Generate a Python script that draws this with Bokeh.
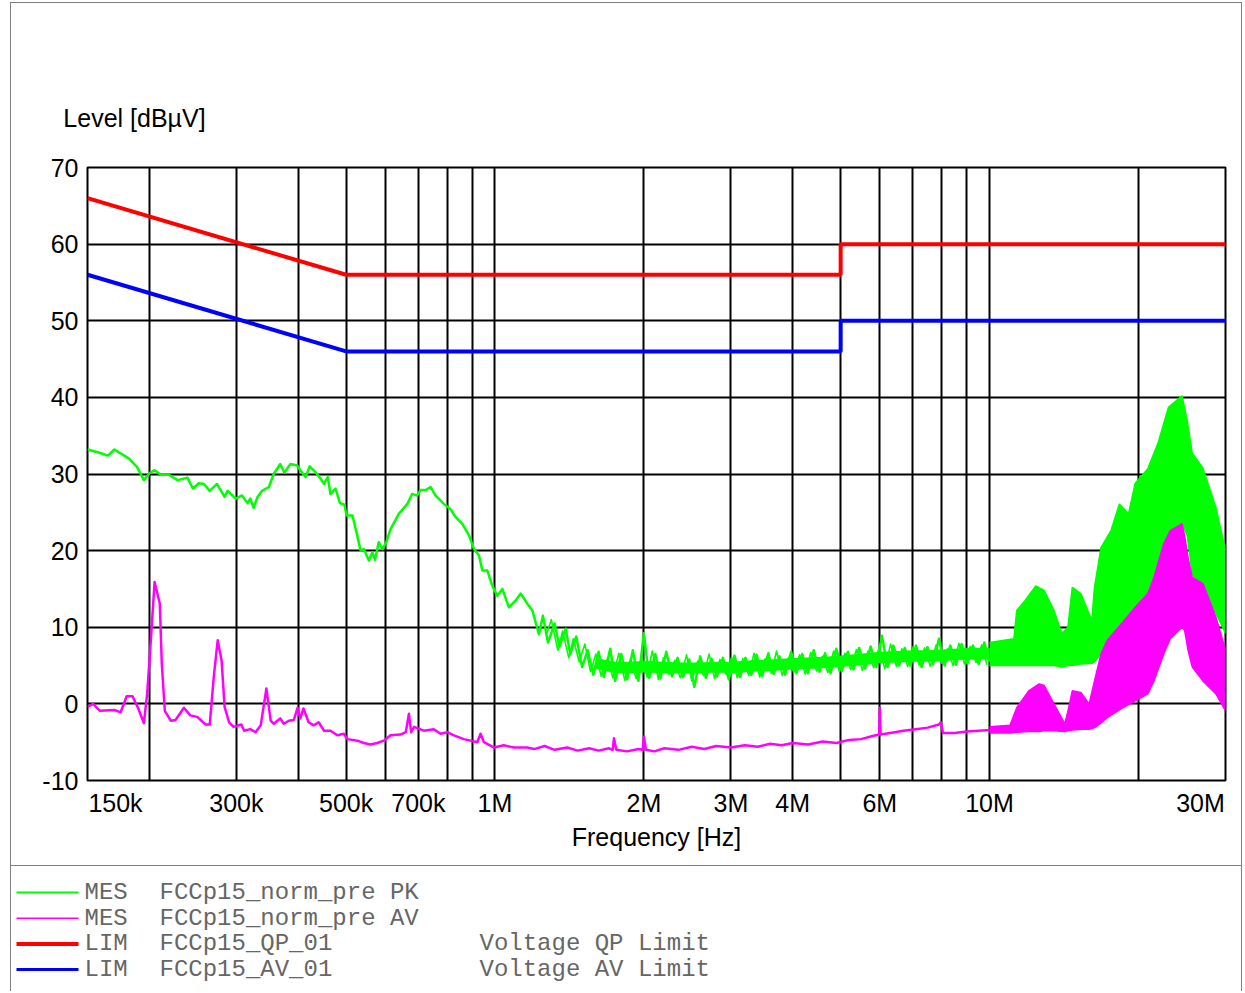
import math
from bokeh.plotting import figure
from bokeh.models import FixedTicker, Range1d, ColumnDataSource, LogAxis
from bokeh.embed import file_html
from bokeh.resources import INLINE
from bokeh.core.properties import value

# ---------------- data ----------------
# PK trace, low band (kHz, dBuV)
pk_low_khz = [150, 158, 165, 170, 182, 189, 195, 200, 205, 211, 219, 228, 239, 245, 252, 258, 265, 274, 284, 288,
              299, 308, 316, 320, 325, 331, 338, 349, 357, 368, 375, 386, 398, 404, 414, 422, 434, 444, 451, 459,
              465, 476, 486, 496, 501, 515, 523, 535, 543, 556, 565, 572, 582, 592, 603, 615, 639, 665, 680, 696,
              707, 724, 741, 758, 788, 813, 832, 859, 886, 907, 928, 943, 965, 988, 1011, 1035, 1067, 1101, 1127, 1162,
              1190, 1227]
pk_low_db = [33.2, 32.8, 32.4, 33.2, 32.0, 30.9, 29.2, 30.1, 30.5, 29.9, 29.9, 29.2, 29.5, 28.1, 28.8, 28.7, 27.8, 28.7, 27.0, 27.8,
             26.8, 27.2, 26.2, 26.8, 25.6, 27.0, 27.8, 28.3, 30.0, 31.3, 30.2, 31.3, 31.1, 30.5, 29.6, 31.0, 30.2, 29.4, 28.7, 29.6,
             27.4, 28.1, 26.2, 26.0, 24.6, 24.6, 22.8, 20.0, 20.2, 18.7, 19.8, 18.8, 21.1, 20.2, 21.1, 22.8, 24.8, 26.1, 27.4, 27.2,
             27.9, 27.9, 28.3, 27.2, 26.1, 25.4, 24.4, 23.5, 22.0, 20.2, 19.4, 17.4, 17.4, 15.4, 14.1, 15.0, 12.6, 13.5, 14.4, 13.1,
             12.2, 9.1]
# PK trace, middle band (MHz, dBuV) - noisy trace, two interleaved sweeps
pk_mid_mhz = [1.25, 1.28, 1.32, 1.35, 1.39, 1.42, 1.46, 1.50, 1.54, 1.58, 1.62, 1.66, 1.71, 1.75, 1.80, 1.85, 1.90, 1.95, 2.00, 2.05,
              2.11, 2.16, 2.22, 2.28, 2.34, 2.40, 2.47, 2.53, 2.60, 2.67, 2.74, 2.81, 2.89, 2.97, 3.05, 3.13, 3.21, 3.30, 3.38, 3.47,
              3.57, 3.66, 3.76, 3.86, 3.97, 4.07, 4.18, 4.29, 4.41, 4.53, 4.65, 4.77, 4.90, 5.03, 5.17, 5.31, 5.45, 5.60, 5.75, 5.90,
              6.06, 6.22, 6.39, 6.56, 6.74, 6.92, 7.10, 7.29, 7.49, 7.69, 7.90, 8.11, 8.33, 8.55, 8.78, 9.02, 9.26, 9.51, 9.76, 10.0]
pk_mid_db = [11.5, 8.0, 10.5, 7.5, 9.8, 6.5, 8.8, 4.8, 7.0, 3.8, 6.8, 3.5, 7.2, 3.0, 6.5, 3.2, 7.0, 3.0, 9.2, 3.4,
             6.5, 3.3, 6.8, 3.6, 6.0, 3.5, 5.8, 2.2, 6.2, 3.4, 5.9, 3.6, 6.0, 3.2, 6.3, 3.5, 6.0, 3.8, 6.4, 3.6,
             6.6, 3.9, 6.2, 3.8, 6.8, 4.0, 6.5, 4.0, 7.0, 4.2, 6.6, 4.0, 7.2, 4.3, 6.8, 4.5, 7.3, 4.6, 7.5, 4.8,
             8.9, 4.8, 7.6, 5.0, 7.3, 5.0, 7.6, 4.8, 7.4, 5.2, 8.5, 5.0, 7.6, 5.1, 7.8, 5.3, 7.6, 5.2, 8.0, 5.5]
pk_mid2_mhz = [1.27, 1.30, 1.34, 1.37, 1.41, 1.44, 1.48, 1.52, 1.56, 1.60, 1.64, 1.69, 1.73, 1.78, 1.83, 1.88, 1.93, 1.98, 2.03, 2.08,
               2.14, 2.19, 2.25, 2.31, 2.37, 2.44, 2.50, 2.57, 2.64, 2.71, 2.78, 2.85, 2.93, 3.01, 3.09, 3.17, 3.26, 3.34, 3.43, 3.52,
               3.62, 3.71, 3.81, 3.92, 4.02, 4.13, 4.24, 4.35, 4.47, 4.59, 4.71, 4.84, 4.97, 5.10, 5.24, 5.38, 5.53, 5.68, 5.83, 5.98,
               6.14, 6.31, 6.48, 6.65, 6.83, 7.01, 7.20, 7.39, 7.59, 7.80, 8.01, 8.22, 8.44, 8.67, 8.90, 9.14, 9.39, 9.64, 9.88]
pk_mid2_db = [9.0, 11.0, 7.0, 9.5, 6.0, 8.5, 5.5, 7.8, 4.2, 6.5, 3.6, 6.0, 3.4, 6.6, 3.1, 5.9, 3.3, 6.2, 3.5, 6.9,
              3.2, 6.0, 3.8, 5.7, 3.4, 6.4, 3.0, 5.6, 3.7, 6.5, 3.3, 5.8, 3.9, 6.1, 3.4, 5.9, 3.7, 6.6, 3.5, 5.9,
              4.0, 6.9, 3.7, 6.0, 4.1, 6.4, 3.9, 6.7, 4.3, 6.2, 4.1, 6.9, 4.2, 6.6, 4.5, 7.1, 4.4, 6.9, 4.7, 7.4,
              4.6, 7.8, 4.9, 7.2, 4.9, 7.5, 5.1, 7.3, 4.9, 7.7, 5.3, 7.2, 5.0, 7.9, 5.2, 7.5, 5.4, 7.7, 5.1]
# PK trace, dense core of the middle band (MHz, lower / upper dBuV)
pk_core_mhz = [1.6, 1.75, 1.85, 2.0, 2.2, 2.4, 2.6, 2.8, 3.0, 3.3, 3.6, 4.0, 4.4, 4.8, 5.2,
               5.6, 6.0, 6.5, 7.0, 7.5, 8.0, 8.5, 9.0, 9.5, 10.0]
pk_core_lo = [4.6, 4.0, 4.0, 4.1, 4.0, 4.0, 4.0, 4.1, 4.0, 4.2, 4.3, 4.5, 4.6, 4.7, 4.9,
              5.1, 5.3, 5.4, 5.5, 5.5, 5.6, 5.7, 5.8, 5.8, 5.8]
pk_core_hi = [6.0, 5.5, 5.5, 5.6, 5.5, 5.4, 5.4, 5.5, 5.5, 5.7, 5.8, 6.0, 6.1, 6.2, 6.4,
              6.6, 6.8, 6.9, 7.0, 7.0, 7.1, 7.2, 7.3, 7.3, 7.3]
# PK trace, high band envelope (MHz, lower / upper dBuV)
pk_high_mhz = [10.0, 11.2, 11.35, 11.8, 12.4, 12.9, 13.5, 14.0, 14.4, 14.7, 15.3, 16.1, 16.3, 16.8, 17.6, 18.3, 19.1, 19.7,
               20.9, 21.9, 23.0, 24.5, 25.1, 25.7, 27.0, 28.7, 30.0]
pk_high_hi = [8.0, 8.5, 12.2, 13.5, 15.4, 14.8, 12.2, 9.2, 10.0, 15.2, 14.4, 10.9, 15.2, 20.4, 22.6, 26.1, 24.8, 28.8,
              30.7, 34.0, 38.7, 40.2, 37.0, 32.7, 30.8, 25.6, 20.0]
pk_high_lo = [5.0, 5.0, 5.0, 5.0, 5.0, 5.0, 5.0, 4.8, 5.0, 5.0, 5.2, 5.3, 5.5, 6.5, 8.0, 9.3, 10.5, 11.5,
              13.9, 17.0, 21.0, 23.5, 22.0, 17.0, 14.4, 11.8, 9.2]

# AV trace, low band (kHz, dBuV)
av_low_khz = [150, 154, 159, 170, 175, 180, 185, 190, 195, 198, 201, 205, 210, 212, 215, 221, 226, 235, 242, 250,
              255, 260, 265, 270, 275, 280, 284, 290, 296, 307, 311, 320, 328, 336, 345, 352, 357, 368, 374, 383,
              392, 399, 404, 410, 420, 430, 440, 451, 465, 480, 495, 503, 527, 543, 560, 578, 596, 615, 644, 660,
              670, 677, 686, 718, 752, 776, 801, 826, 865, 893, 921, 935, 950, 995, 1042, 1092, 1162]
av_low_db = [-0.4, 0.0, -0.9, -0.8, -1.1, 1.0, 1.0, -0.6, -2.5, 1.3, 7.4, 15.9, 13.1, 5.2, -0.9, -2.2, -2.1, -0.5, -1.5, -1.7,
             -2.2, -2.7, -2.7, 3.5, 8.3, 5.7, -0.4, -2.4, -3.0, -2.7, -3.5, -3.3, -3.7, -2.8, 2.0, -2.2, -2.6, -1.9, -2.6, -2.2,
             -2.1, -0.5, -1.9, -0.6, -2.4, -2.8, -2.4, -3.5, -3.5, -4.1, -3.9, -4.6, -4.8, -5.1, -5.3, -5.1, -4.8, -4.1, -4.0, -3.7,
             -1.3, -3.7, -3.0, -3.5, -3.3, -3.9, -3.7, -4.1, -4.6, -4.8, -5.0, -3.9, -5.0, -5.7, -5.4, -5.7, -5.7]
# AV trace, middle band (MHz, dBuV)
av_mid_mhz = [1.2, 1.26, 1.32, 1.4, 1.47, 1.55, 1.62, 1.7, 1.73, 1.74, 1.76, 1.85, 1.95, 1.99, 2.0, 2.02, 2.1, 2.2, 2.35, 2.5,
              2.65, 2.8, 3.0, 3.2, 3.4, 3.6, 3.8, 4.0, 4.3, 4.6, 4.9, 5.2, 5.5, 5.8, 5.98, 6.0, 6.02, 6.3, 6.7, 7.1,
              7.5, 7.9, 7.97, 8.05, 8.5, 9.0, 9.5, 10.0]
av_mid_db = [-5.9, -5.5, -6.0, -5.7, -6.1, -5.8, -6.1, -5.8, -6.0, -4.5, -6.0, -6.2, -5.9, -6.0, -4.3, -6.0, -6.2, -5.8, -6.0, -5.6,
             -5.9, -5.5, -5.7, -5.4, -5.6, -5.2, -5.4, -5.1, -5.3, -4.9, -5.1, -4.7, -4.6, -4.2, -4.0, -0.5, -4.0, -3.8, -3.5, -3.3,
             -3.1, -2.7, -2.4, -3.8, -3.8, -3.6, -3.5, -3.4]
# AV trace, high band envelope (MHz, lower / upper dBuV)
av_high_mhz = [10.0, 11.0, 11.35, 12.0, 12.6, 12.9, 13.5, 14.2, 14.4, 14.7, 15.3, 15.9, 16.3, 16.8, 17.3, 18.5, 19.7, 20.9,
               21.5, 22.5, 23.2, 24.5, 24.8, 25.2, 25.7, 27.0, 28.7, 30.0]
av_high_hi = [-3.0, -2.8, -0.5, 1.7, 2.6, 2.4, 0.0, -2.6, -1.0, 1.7, 1.5, 0.0, 3.0, 6.5, 8.3, 10.5, 12.6, 14.4,
              16.5, 20.9, 22.6, 23.5, 22.0, 19.1, 16.5, 15.7, 11.3, 7.0]
av_high_lo = [-3.8, -3.8, -3.7, -3.6, -3.6, -3.5, -3.5, -3.6, -3.5, -3.4, -3.3, -3.3, -3.1, -2.5, -1.8, -0.6, 0.4, 1.3,
              3.0, 6.5, 8.5, 10.0, 9.6, 7.0, 4.8, 3.0, 1.3, -0.9]

# Limits (MHz, dBuV)
qp_lim_mhz = [0.15, 0.5, 5.0, 5.0, 30.0]
qp_lim_db = [66, 56, 56, 60, 60]
av_lim_mhz = [0.15, 0.5, 5.0, 5.0, 30.0]
av_lim_db = [56, 46, 46, 50, 50]

# Axes
x_min_hz, x_max_hz = 150e3, 30e6
y_min, y_max = -10, 70
x_tick_hz = [150e3, 300e3, 500e3, 700e3, 1e6, 2e6, 3e6, 4e6, 6e6, 10e6, 30e6]
x_tick_labels = ["150k", "300k", "500k", "700k", "1M", "2M", "3M", "4M", "6M", "10M", "30M"]
x_grid_hz = [200e3, 300e3, 400e3, 500e3, 600e3, 700e3, 800e3, 900e3, 1e6, 2e6, 3e6, 4e6, 5e6, 6e6, 7e6,
             8e6, 9e6, 10e6, 20e6]
y_ticks = [-10, 0, 10, 20, 30, 40, 50, 60, 70]
y_tick_labels = ["-10", "0", "10", "20", "30", "40", "50", "60", "70"]
y_grid = [0, 10, 20, 30, 40, 50, 60]
x_title = "Frequency [Hz]"
y_title = "Level [dBµV]"

# Legend
legend_kind = ["MES", "MES", "LIM", "LIM"]
legend_name = ["FCCp15_norm_pre PK", "FCCp15_norm_pre AV", "FCCp15_QP_01", "FCCp15_AV_01"]
legend_desc = ["", "", "Voltage QP Limit", "Voltage AV Limit"]

# ---------------- styles / layout ----------------
GREEN, MAGENTA, RED, BLUE = "#00ff00", "#ff00ff", "#ff0000", "#0000ff"
BORDER = "1px solid #808080"
W = 1232                  # canvas width (page x 11 .. 1243)
MAIN_H = 863              # canvas height (page y 3 .. 866)
LEG_H = 126               # legend canvas height (page y 867 .. 993)
ML, MR, MT, MB = 76, 18, 164, 86
FRAME_W = W - ML - MR
SANS = "Liberation Sans"
MONO = "Liberation Mono"

p = figure(width=W, height=MAIN_H, x_axis_type="log",
           x_range=Range1d(x_min_hz, x_max_hz), y_range=Range1d(y_min, y_max),
           output_backend="svg", toolbar_location=None,
           min_border_left=ML, min_border_right=MR, min_border_top=MT, min_border_bottom=MB,
           margin=(2, 0, 0, 10),
           styles={"border-left": BORDER, "border-right": BORDER, "border-top": BORDER})
p.background_fill_color = "white"
p.border_fill_color = "white"
p.outline_line_color = "black"
p.outline_line_width = 2
bottom_axis = p.below[0]
left_axis = p.left[0]

px_per_dec = FRAME_W / math.log10(x_max_hz / x_min_hz)


def shift(f, px):
    return f * 10 ** (px / px_per_dec)


# x axis ticks: first / last label aligned with the frame edges
label_pos = list(x_tick_hz)
label_pos[0] = shift(x_tick_hz[0], 28)
label_pos[-1] = shift(x_tick_hz[-1], -25)
bottom_axis.ticker = FixedTicker(ticks=label_pos)
bottom_axis.major_label_overrides = {pos: lbl for pos, lbl in zip(label_pos, x_tick_labels)}
left_axis.ticker = FixedTicker(ticks=y_ticks)
left_axis.major_label_overrides = {t: lbl for t, lbl in zip(y_ticks, y_tick_labels)}

# y-axis title drawn as the label of a top axis
title_pos = shift(x_min_hz, 47)
top_axis = LogAxis(ticker=FixedTicker(ticks=[title_pos]), major_label_overrides={title_pos: y_title})
p.add_layout(top_axis, "above")

for ax in (bottom_axis, left_axis, top_axis):
    ax.axis_line_color = None
    ax.major_tick_line_color = None
    ax.minor_tick_line_color = None
    ax.major_tick_in = 0
    ax.major_tick_out = 0
    ax.minor_tick_in = 0
    ax.minor_tick_out = 0
    ax.major_label_text_font = SANS
    ax.major_label_text_font_size = "25px"
    ax.major_label_text_color = "black"
bottom_axis.major_label_standoff = 8
left_axis.major_label_standoff = 9
top_axis.major_label_standoff = 36
bottom_axis.axis_label = x_title
bottom_axis.axis_label_text_font = SANS
bottom_axis.axis_label_text_font_size = "25px"
bottom_axis.axis_label_text_font_style = "normal"
bottom_axis.axis_label_text_color = "black"
bottom_axis.axis_label_standoff = 3

p.xgrid.ticker = FixedTicker(ticks=x_grid_hz)
p.ygrid.ticker = FixedTicker(ticks=y_grid)
for g in (p.xgrid[0], p.ygrid[0]):
    g.grid_line_color = "black"
    g.grid_line_width = 2

# traces
p.varea(x=[f * 1e6 for f in pk_core_mhz], y1=pk_core_lo, y2=pk_core_hi, fill_color=GREEN)
p.line([f * 1e6 for f in pk_mid2_mhz], pk_mid2_db, line_color=GREEN, line_width=1.6, line_join="round")
pk_line_hz = [f * 1e3 for f in pk_low_khz] + [f * 1e6 for f in pk_mid_mhz]
p.line(pk_line_hz, pk_low_db + pk_mid_db, line_color=GREEN, line_width=2.5, line_join="round")
pk_hz = [f * 1e6 for f in pk_high_mhz]
p.varea(x=pk_hz, y1=pk_high_lo, y2=pk_high_hi, fill_color=GREEN)
p.line(pk_hz, pk_high_hi, line_color=GREEN, line_width=1.5)
p.line(pk_hz, pk_high_lo, line_color=GREEN, line_width=1.5)

av_line_hz = [f * 1e3 for f in av_low_khz] + [f * 1e6 for f in av_mid_mhz]
p.line(av_line_hz, av_low_db + av_mid_db, line_color=MAGENTA, line_width=2.5, line_join="round")
av_hz = [f * 1e6 for f in av_high_mhz]
p.varea(x=av_hz, y1=av_high_lo, y2=av_high_hi, fill_color=MAGENTA)
p.line(av_hz, av_high_hi, line_color=MAGENTA, line_width=1.5)
p.line(av_hz, av_high_lo, line_color=MAGENTA, line_width=1.5)

p.line([f * 1e6 for f in qp_lim_mhz], qp_lim_db, line_color=RED, line_width=4)
p.line([f * 1e6 for f in av_lim_mhz], av_lim_db, line_color=BLUE, line_width=4)

# ---------------- legend figure ----------------
leg = figure(width=W, height=LEG_H, x_range=Range1d(0, W), y_range=Range1d(LEG_H, 0),
             output_backend="svg", toolbar_location=None,
             x_axis_location=None, y_axis_location=None, min_border=0,
             margin=(0, 0, 0, 10),
             styles={"border-left": BORDER, "border-right": BORDER, "border-top": BORDER})
leg.outline_line_color = None
leg.grid.visible = False
leg.background_fill_color = "white"
leg.border_fill_color = "white"

row_y = [26 + i * 25.7 for i in range(len(legend_kind))]
leg_src = ColumnDataSource(dict(
    y=row_y, kind=legend_kind, name=legend_name, desc=legend_desc,
    color=[GREEN, MAGENTA, RED, BLUE], lw=[2, 1.5, 4, 3],
    x0=[5] * 4, x1=[67] * 4, xk=[73] * 4, xn=[148] * 4, xd=[468] * 4))
leg.segment(x0="x0", y0="y", x1="x1", y1="y", line_color="color", line_width="lw", source=leg_src)
for col, xcol in (("kind", "xk"), ("name", "xn"), ("desc", "xd")):
    leg.text(x=xcol, y="y", text=col, source=leg_src, text_font=value(MONO), text_font_size="24px",
             text_color="#666666", text_baseline="middle", text_align="left")

open("out.html", "w").write(file_html([p, leg], INLINE))
